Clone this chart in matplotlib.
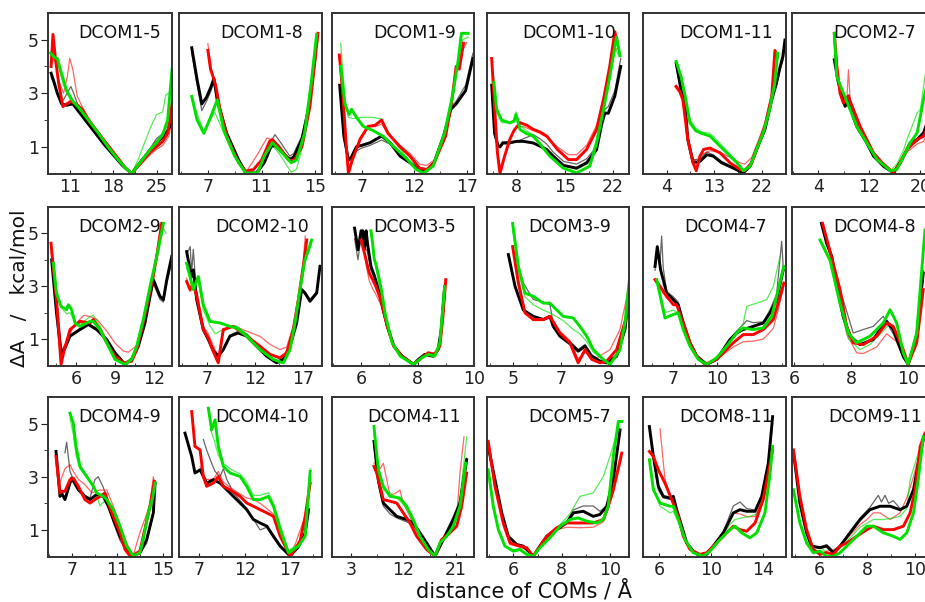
import numpy as np
import matplotlib
matplotlib.use("Agg")
import matplotlib.pyplot as plt
from matplotlib.ticker import AutoMinorLocator

# curve order in every panel: black thick, black thin, red thick, red thin, green thick, green thin

TITLES = ["DCOM1-5", "DCOM1-8", "DCOM1-9", "DCOM1-10", "DCOM1-11", "DCOM2-7",
          "DCOM2-9", "DCOM2-10", "DCOM3-5", "DCOM3-9", "DCOM4-7", "DCOM4-8",
          "DCOM4-9", "DCOM4-10", "DCOM4-11", "DCOM5-7", "DCOM8-11", "DCOM9-11"]

XLIMS = [(7.5, 27.5), (4.85, 15.5), (4.17, 17.7), (3.7, 24.3), (-0.49, 26.6), (-0.14, 22.3),
         (3.85, 13.35), (4.14, 18.93), (4.97, 10.0), (3.89, 9.87), (4.9, 14.8), (5.93, 10.93),
         (4.93, 15.76), (4.76, 20.5), (-0.26, 24.1), (4.91, 10.78), (4.75, 15.75), (4.86, 10.84)]

XTICKS = [[11, 18, 25], [7, 11, 15], [7, 12, 17], [8, 15, 22], [4, 13, 22], [4, 12, 20],
          [6, 9, 12], [7, 12, 17], [6, 8, 10], [5, 7, 9], [7, 10, 13], [6, 8, 10],
          [7, 11, 15], [7, 12, 17], [3, 12, 21], [6, 8, 10], [6, 10, 14], [6, 8, 10]]

# ---------------- DCOM1-5
D1_5_X = [
    [8.0, 8.5, 9.0, 9.7, 10.5, 11.5, 12.5, 13.5, 15, 16.5, 18, 19.5, 21, 22.5, 24, 25, 26, 26.8, 27.5],
    [8.0, 8.5, 9.2, 10, 10.8, 11.2, 11.8, 12.5, 13.5, 15, 16.5, 18, 19.5, 21, 22.5, 24, 25, 25.8, 26.5],
    [8.0, 8.3, 8.7, 9.2, 9.9, 10.5, 11.2, 12, 13, 14, 15.5, 17, 18.5, 20, 21, 22.5, 24, 25, 26, 26.8, 27.5],
    [8.1, 8.5, 9.2, 10, 10.6, 11.0, 11.5, 12.2, 13, 14, 15.5, 17, 18.5, 20, 21, 22.5, 24, 25, 26, 27, 27.5],
    [7.9, 8.5, 9.0, 9.6, 10.5, 11.5, 12.5, 14, 15.5, 17, 18.5, 20, 21, 22.5, 24, 25, 26, 26.8, 27.5],
    [7.9, 8.5, 9.2, 10, 11, 12, 13, 14.5, 16, 17.5, 19, 20.5, 21, 22, 23, 24, 25, 26, 26.5, 27]]
D1_5_Y = [
    [3.75, 3.4, 3.0, 2.6, 2.55, 2.6, 2.3, 2.0, 1.55, 1.1, 0.7, 0.3, 0.0, 0.45, 0.85, 1.15, 1.35, 1.6, 1.9],
    [3.6, 3.3, 2.9, 2.75, 3.1, 3.25, 2.9, 2.45, 2.05, 1.6, 1.15, 0.75, 0.35, 0.0, 0.5, 0.95, 1.3, 1.45, 1.7],
    [4.0, 5.2, 4.3, 3.4, 2.5, 2.6, 2.7, 2.6, 2.4, 2.0, 1.55, 1.1, 0.65, 0.2, 0.0, 0.4, 0.8, 1.0, 1.2, 1.5, 2.6],
    [4.1, 4.4, 3.5, 3.0, 3.6, 4.3, 3.9, 2.9, 2.5, 2.1, 1.6, 1.15, 0.7, 0.25, 0.0, 0.35, 0.7, 0.9, 1.05, 1.4, 2.0],
    [4.5, 4.35, 4.3, 3.8, 3.1, 2.7, 2.45, 2.0, 1.55, 1.05, 0.6, 0.2, 0.0, 0.45, 0.9, 1.15, 1.45, 2.0, 3.9],
    [4.4, 4.2, 4.0, 3.3, 2.8, 2.55, 2.3, 1.85, 1.35, 0.9, 0.45, 0.1, 0.0, 0.5, 1.1, 1.7, 2.2, 2.3, 2.95, 3.0]]

# ---------------- DCOM1-8
D1_8_X = [
    [5.8, 6.2, 6.55, 6.9, 7.2, 7.45, 7.7, 8.4, 9.3, 9.8, 10.6, 11.2, 11.7, 12.0, 12.5, 13.1, 13.4, 14.0, 14.5, 15.0],
    [5.8, 6.2, 6.55, 6.9, 7.2, 7.45, 7.7, 8.4, 9.3, 9.8, 10.6, 11.2, 11.7, 12.0, 12.5, 13.1, 13.4, 14.0, 14.5, 15.0],
    [7.0, 7.2, 7.4, 7.6, 7.9, 8.5, 9.3, 9.8, 10.4, 11.0, 11.6, 11.8, 12.3, 13.0, 13.4, 14.0, 14.6, 15.2],
    [7.0, 7.1, 7.3, 7.6, 7.9, 8.5, 9.3, 9.9, 10.3, 10.8, 11.4, 11.8, 12.3, 13.0, 13.4, 14.0, 14.6, 15.1],
    [5.8, 6.2, 6.7, 7.2, 7.7, 8.2, 9.0, 9.8, 10.7, 11.2, 11.8, 12.3, 13.2, 13.6, 14.2, 14.7, 15.1],
    [5.8, 6.7, 7.5, 8.2, 9.0, 9.8, 10.7, 11.2, 11.8, 12.3, 13.2, 13.6, 14.2, 14.7, 15.1]]
D1_8_Y = [
    [4.7, 3.5, 2.6, 2.85, 3.2, 3.55, 2.75, 1.5, 0.5, 0.05, 0.0, 0.4, 1.0, 1.05, 0.8, 0.52, 0.62, 1.27, 2.4, 4.4],
    [4.5, 3.3, 2.35, 2.7, 3.05, 3.4, 2.6, 1.45, 0.45, 0.05, 0.05, 0.5, 1.2, 1.45, 1.1, 0.65, 0.75, 1.4, 2.6, 4.6],
    [4.6, 3.9, 3.6, 3.25, 2.4, 1.27, 0.4, 0.08, 0.15, 0.5, 1.2, 1.27, 1.0, 0.52, 0.46, 1.0, 2.5, 5.24],
    [4.85, 4.5, 3.8, 3.3, 2.5, 1.35, 0.45, 0.1, 0.4, 0.8, 1.33, 1.25, 0.95, 0.6, 0.55, 1.1, 2.6, 5.0],
    [2.88, 2.0, 1.5, 2.1, 2.75, 1.6, 0.65, 0.02, 0.02, 0.65, 1.15, 0.9, 0.4, 0.5, 1.5, 3.4, 5.2],
    [2.8, 1.55, 2.3, 1.5, 0.6, 0.0, 0.0, 0.6, 1.05, 0.75, 0.05, 0.15, 1.3, 3.0, 5.0]]

# ---------------- DCOM1-9
D1_9_X = [
    [4.9, 5.3, 5.73, 6.0, 6.5, 7.0, 7.8, 8.9, 9.7, 10.65, 11.6, 12.5, 13.2, 13.9, 14.8, 15.5, 16.0, 16.9, 17.6],
    [4.9, 5.3, 5.73, 6.0, 6.5, 7.0, 7.8, 8.9, 9.7, 10.65, 11.6, 12.5, 13.2, 13.9, 14.8, 15.5, 16.0, 16.9, 17.6],
    [4.87, 5.2, 5.5, 5.73, 6.1, 6.84, 7.6, 8.27, 8.9, 9.5, 10.65, 11.6, 12.5, 13.2, 13.9, 15.0, 15.6, 16.0, 16.3, 16.7],
    [4.87, 5.3, 5.73, 6.2, 6.84, 7.6, 8.3, 8.9, 9.5, 10.65, 11.6, 12.5, 13.2, 13.9, 15.0, 15.6, 16.1, 16.6, 17.0],
    [5.0, 5.4, 5.8, 6.04, 6.5, 7.15, 8.1, 9.06, 10.0, 11.3, 12.2, 12.9, 13.8, 14.9, 15.7, 16.2, 16.5, 17.15],
    [5.0, 5.4, 5.73, 6.2, 7.0, 8.0, 8.8, 9.5, 10.3, 11.3, 12.2, 12.9, 13.8, 14.9, 15.7, 16.2, 16.6, 17.15]]
D1_9_Y = [
    [3.3, 1.4, 0.52, 0.6, 1.0, 1.05, 1.15, 1.4, 1.15, 0.65, 0.4, 0.1, 0.1, 0.4, 1.4, 2.4, 2.6, 3.1, 4.3],
    [3.2, 1.3, 0.45, 0.5, 0.85, 0.95, 1.05, 1.25, 1.1, 0.7, 0.45, 0.15, 0.12, 0.45, 1.45, 2.5, 2.7, 3.3, 4.5],
    [4.43, 3.0, 1.2, 0.0, 0.5, 1.27, 1.76, 1.8, 2.0, 1.5, 1.0, 0.65, 0.2, 0.15, 0.4, 1.4, 2.75, 4.0, 3.9, 4.87],
    [4.3, 2.2, 0.1, 0.6, 1.35, 1.75, 1.75, 1.85, 1.5, 1.05, 0.75, 0.35, 0.3, 0.5, 1.45, 2.7, 3.9, 4.6, 4.9],
    [4.0, 2.6, 2.2, 2.4, 2.1, 1.76, 1.6, 1.39, 1.02, 0.55, 0.15, 0.02, 0.27, 1.52, 3.0, 4.25, 5.24, 5.24],
    [4.87, 2.8, 2.1, 2.05, 2.1, 2.1, 2.05, 1.6, 1.1, 0.6, 0.2, 0.05, 0.3, 1.5, 3.0, 4.2, 5.0, 5.1]]

# ---------------- DCOM1-10
D1_10_X = [
    [4.38, 4.8, 5.3, 5.6, 6.0, 7.0, 8.0, 9.0, 10.4, 11.4, 12.35, 13.3, 14.8, 16.7, 18.15, 19.6, 20.3, 20.8, 21.3, 22.25, 23.1],
    [4.38, 4.8, 5.3, 5.6, 6.0, 7.0, 8.0, 9.0, 10.4, 11.4, 12.35, 13.3, 14.8, 16.7, 18.15, 19.6, 20.3, 20.8, 21.3, 22.25, 23.1],
    [4.38, 4.8, 5.2, 5.58, 6.2, 7.0, 7.6, 8.5, 9.5, 10.4, 11.4, 12.4, 13.9, 15.5, 16.7, 18.15, 19.6, 20.6, 21.5, 22.25, 22.6],
    [4.38, 4.8, 5.3, 5.7, 6.3, 7.0, 8.0, 9.0, 10.4, 11.4, 12.4, 13.9, 15.5, 16.7, 18.15, 19.6, 20.6, 21.5, 22.25, 22.7],
    [4.7, 5.1, 5.83, 7.0, 7.6, 7.9, 8.5, 9.4, 10.4, 11.4, 12.8, 14.76, 16.7, 18.6, 19.6, 20.6, 21.5, 22.5, 23.0],
    [4.7, 5.1, 5.83, 7.0, 7.6, 7.9, 8.5, 9.4, 10.4, 11.4, 12.8, 14.76, 16.7, 18.6, 19.6, 20.6, 21.5, 22.3, 22.8]]
D1_10_Y = [
    [3.3, 1.5, 1.05, 1.0, 1.15, 1.15, 1.2, 1.2, 1.14, 1.02, 0.9, 0.65, 0.3, 0.2, 0.4, 0.89, 1.8, 2.26, 2.25, 2.9, 4.0],
    [3.2, 1.4, 1.0, 0.95, 1.1, 1.1, 1.2, 1.3, 1.45, 1.3, 1.1, 0.8, 0.45, 0.35, 0.55, 1.0, 1.9, 2.4, 2.5, 3.1, 4.3],
    [4.3, 2.5, 0.8, 0.0, 0.6, 1.27, 1.6, 1.9, 1.8, 1.65, 1.55, 1.39, 0.9, 0.52, 0.52, 0.9, 1.64, 2.76, 4.0, 5.3, 4.9],
    [4.2, 2.4, 0.7, 0.15, 0.7, 1.3, 1.75, 1.75, 1.6, 1.5, 1.35, 1.0, 0.7, 0.7, 1.05, 1.8, 2.9, 3.9, 4.6, 4.7],
    [3.4, 2.4, 2.0, 1.89, 1.95, 2.2, 1.64, 1.5, 1.39, 1.1, 0.65, 0.2, 0.02, 0.27, 1.14, 2.39, 3.6, 5.1, 4.4],
    [3.6, 2.3, 1.9, 1.9, 2.0, 2.3, 1.8, 1.6, 1.45, 1.15, 0.7, 0.3, 0.15, 0.4, 1.3, 2.6, 3.8, 4.7, 4.4]]

# ---------------- DCOM1-11
D1_11_X = [
    [5.8, 6.75, 7.4, 8.0, 9.0, 10.3, 11.6, 12.8, 14.4, 16.6, 18.5, 19.8, 21.0, 22.6, 23.9, 24.8, 25.5, 26.0, 26.4],
    [5.8, 6.75, 7.4, 8.0, 9.0, 10.3, 11.6, 12.8, 14.4, 16.6, 18.5, 19.8, 21.0, 22.6, 23.9, 24.8, 25.5, 26.0, 26.4],
    [5.76, 6.5, 7.07, 8.0, 9.0, 9.6, 10.3, 11.0, 12.2, 14.1, 16.0, 17.9, 18.8, 20.1, 21.3, 22.6, 23.9, 24.5, 25.0],
    [5.76, 6.5, 7.07, 8.0, 9.0, 9.8, 10.6, 12.2, 14.1, 16.0, 17.9, 18.8, 20.1, 21.3, 22.6, 23.9, 24.5, 25.0],
    [5.8, 6.75, 7.5, 8.4, 9.5, 10.6, 12.2, 13.5, 15.4, 17.3, 18.5, 19.8, 21.0, 22.3, 23.5, 24.5, 25.0],
    [5.8, 6.75, 7.5, 8.4, 9.5, 10.6, 12.2, 13.5, 15.4, 17.3, 18.5, 19.8, 21.0, 22.3, 23.5, 24.5, 25.1]]
D1_11_Y = [
    [4.12, 3.1, 2.76, 1.27, 0.4, 0.45, 0.7, 0.65, 0.4, 0.2, 0.02, 0.27, 0.89, 1.64, 2.76, 3.38, 4.0, 4.37, 4.99],
    [4.0, 3.0, 2.6, 1.2, 0.5, 0.55, 0.8, 0.7, 0.45, 0.25, 0.05, 0.3, 0.9, 1.6, 2.7, 3.3, 3.9, 4.2, 4.7],
    [3.25, 3.05, 2.76, 1.27, 0.4, 0.1, 0.65, 0.9, 0.95, 0.77, 0.4, 0.15, 0.1, 0.4, 1.02, 1.76, 2.88, 4.6, 4.37],
    [3.3, 3.2, 2.6, 1.3, 0.55, 0.4, 0.7, 0.85, 0.8, 0.6, 0.4, 0.35, 0.6, 1.2, 1.9, 3.0, 4.3, 4.4],
    [4.19, 3.6, 2.88, 1.9, 1.6, 1.5, 1.4, 1.14, 0.77, 0.4, 0.1, 0.27, 0.89, 1.52, 2.39, 3.4, 4.5],
    [4.1, 3.6, 2.95, 2.0, 1.7, 1.55, 1.5, 1.25, 0.85, 0.45, 0.15, 0.3, 0.9, 1.5, 2.4, 3.5, 4.4]]

# ---------------- DCOM2-7
D2_7_X = [
    [6.5, 7.14, 8.19, 8.72, 9.5, 10.03, 11.6, 12.65, 14.22, 15.8, 17.1, 18.4, 19.5, 20.5, 21.5],
    [6.5, 7.14, 8.19, 8.72, 9.5, 10.03, 11.6, 12.65, 14.22, 15.8, 17.1, 18.4, 19.5, 20.5, 21.5],
    [6.5, 6.9, 7.4, 7.93, 8.7, 9.5, 10.55, 11.6, 12.65, 14.0, 15.8, 16.8, 17.9, 19.5, 20.5, 21.5],
    [6.5, 6.9, 7.4, 7.93, 8.4, 8.72, 9.0, 9.5, 10.55, 11.6, 12.65, 14.0, 15.8, 16.8, 17.9, 19.5, 20.5, 21.5],
    [6.5, 6.88, 7.93, 9.0, 10.03, 11.6, 13.2, 15.3, 16.3, 17.4, 18.4, 19.5, 20.5, 21.5],
    [6.5, 6.88, 7.93, 9.0, 10.03, 11.6, 13.2, 15.3, 16.3, 17.4, 17.9, 19.5, 20.0, 20.8, 21.5]]
D2_7_Y = [
    [4.25, 3.4, 2.51, 2.88, 2.1, 1.76, 1.14, 0.65, 0.27, 0.02, 0.52, 1.14, 1.27, 1.52, 2.2],
    [4.4, 3.5, 2.7, 2.95, 2.2, 1.8, 1.2, 0.7, 0.3, 0.05, 0.5, 1.05, 1.2, 1.45, 2.1],
    [5.24, 4.0, 3.0, 2.63, 2.88, 2.39, 1.76, 1.27, 0.77, 0.4, 0.02, 0.4, 0.89, 1.27, 1.39, 1.9],
    [4.9, 3.8, 3.1, 2.9, 2.5, 3.88, 2.7, 2.3, 1.7, 1.2, 0.75, 0.4, 0.05, 0.3, 0.8, 1.1, 1.2, 1.6],
    [5.24, 3.63, 3.0, 2.39, 1.76, 1.14, 0.52, 0.1, 0.15, 0.65, 1.14, 1.52, 2.76, 3.8],
    [5.1, 3.5, 2.9, 2.3, 1.7, 1.1, 0.5, 0.1, 0.35, 0.9, 1.27, 2.26, 2.39, 3.75, 4.3]]

# ---------------- DCOM2-9
D2_9_X = [
    [4.13, 4.5, 4.85, 5.1, 5.54, 6.3, 6.94, 7.58, 8.35, 8.98, 9.75, 10.26, 10.77, 11.28, 11.67, 11.92, 12.43, 12.69, 12.95, 13.33],
    [4.13, 4.5, 4.85, 5.1, 5.54, 6.3, 6.94, 7.58, 8.35, 8.98, 9.75, 10.26, 10.77, 11.28, 11.67, 11.92, 12.43, 12.69, 12.95, 13.33],
    [4.08, 4.5, 4.85, 5.1, 5.54, 6.3, 7.07, 7.32, 7.83, 8.35, 8.98, 9.62, 10.26, 10.65, 11.03, 11.54, 11.92, 12.23, 12.56],
    [4.08, 4.5, 4.9, 5.3, 5.8, 6.3, 6.6, 7.07, 7.6, 8.35, 8.98, 9.62, 10.0, 10.65, 11.03, 11.54, 11.92, 12.23, 12.6],
    [4.26, 4.5, 4.85, 5.28, 5.41, 5.66, 5.92, 6.3, 7.07, 7.32, 7.83, 8.35, 8.98, 9.75, 10.26, 10.65, 11.15, 11.67, 12.18, 12.69],
    [4.26, 4.5, 4.85, 5.28, 5.54, 5.92, 6.3, 7.07, 7.32, 7.83, 8.35, 8.98, 9.75, 10.26, 10.65, 11.15, 11.67, 12.18, 12.69, 12.9]]
D2_9_Y = [
    [4.0, 2.0, 0.48, 0.6, 1.11, 1.36, 1.55, 1.36, 0.98, 0.48, 0.04, 0.23, 0.73, 1.61, 2.62, 3.25, 2.62, 2.49, 3.25, 4.13],
    [3.9, 2.0, 0.55, 0.7, 1.15, 1.4, 1.6, 1.4, 1.0, 0.5, 0.08, 0.25, 0.8, 1.65, 2.7, 3.1, 2.5, 2.4, 3.1, 3.9],
    [4.63, 2.5, 0.04, 0.6, 1.36, 1.67, 1.61, 1.74, 1.36, 0.86, 0.35, 0.1, 0.16, 0.6, 1.36, 2.49, 3.4, 4.3, 5.38],
    [4.3, 2.6, 0.6, 0.9, 1.5, 1.75, 1.9, 1.85, 1.75, 1.3, 0.85, 0.55, 0.5, 0.75, 1.4, 2.4, 3.3, 4.1, 5.1],
    [3.87, 2.74, 2.24, 2.11, 2.3, 2.11, 1.61, 1.48, 1.67, 1.67, 1.36, 0.86, 0.23, 0.04, 0.23, 0.73, 1.74, 2.99, 4.13, 5.38],
    [3.8, 2.8, 2.2, 1.95, 2.0, 1.65, 1.55, 1.85, 1.9, 1.5, 0.95, 0.3, 0.08, 0.3, 0.8, 1.8, 3.0, 4.1, 5.2, 5.0]]

# ---------------- DCOM2-10
D2_10_X = [
    [4.93, 5.3, 5.45, 5.62, 5.97, 6.65, 7.17, 7.7, 8.2, 8.72, 9.41, 10.27, 11.14, 12.17, 13.21, 14.24, 14.93, 15.62, 16.31, 16.83, 17.17, 17.69, 18.38, 18.72],
    [4.93, 5.3, 5.45, 5.62, 5.97, 6.65, 7.17, 7.7, 8.2, 8.72, 9.41, 10.27, 11.14, 12.17, 13.21, 14.24, 14.93, 15.62, 16.31, 16.83, 17.17, 17.69, 18.38, 18.72],
    [4.93, 5.28, 5.62, 5.97, 6.65, 7.17, 7.6, 8.2, 8.72, 9.76, 11.14, 12.52, 13.55, 14.58, 15.28, 15.96, 16.48, 17.0, 17.35],
    [4.93, 5.28, 5.62, 6.0, 6.65, 7.17, 7.7, 8.2, 8.72, 9.76, 11.14, 12.52, 13.55, 14.58, 15.28, 15.96, 16.48, 17.0, 17.2],
    [4.93, 5.62, 6.14, 6.65, 7.35, 8.38, 9.41, 10.1, 11.14, 12.52, 13.89, 14.93, 15.62, 16.14, 16.65, 17.17, 17.86],
    [4.93, 5.62, 6.14, 6.65, 7.35, 7.9, 8.38, 9.41, 10.1, 11.14, 12.52, 13.89, 14.93, 15.62, 16.14, 16.65, 17.17, 17.86]]
D2_10_Y = [
    [4.31, 3.6, 3.37, 3.62, 2.49, 1.36, 0.98, 0.55, 0.35, 0.6, 1.11, 1.23, 1.11, 0.73, 0.35, 0.1, 0.23, 0.73, 1.61, 2.87, 2.74, 2.43, 2.74, 3.75],
    [4.2, 4.5, 3.5, 4.4, 2.6, 1.45, 1.05, 0.6, 0.4, 0.65, 1.15, 1.3, 1.2, 0.8, 0.45, 0.15, 0.3, 0.8, 1.7, 2.9, 2.8, 2.5, 2.8, 3.8],
    [3.18, 2.87, 3.12, 2.62, 1.36, 1.04, 0.6, 0.1, 1.36, 1.48, 1.11, 0.73, 0.42, 0.29, 0.48, 1.36, 2.49, 3.75, 4.75],
    [3.3, 2.8, 3.0, 2.8, 1.5, 1.2, 0.75, 0.35, 1.3, 1.5, 1.3, 1.1, 0.8, 0.6, 0.7, 1.5, 2.6, 4.0, 4.9],
    [3.87, 2.87, 3.37, 2.3, 1.67, 1.61, 1.48, 1.42, 1.11, 0.6, 0.23, 0.1, 0.6, 1.61, 2.87, 4.0, 4.75],
    [3.7, 3.0, 3.2, 2.1, 1.5, 1.2, 1.3, 1.45, 1.5, 1.2, 0.7, 0.35, 0.2, 0.7, 1.7, 2.9, 3.9, 4.6]]

# ---------------- DCOM3-5
D3_5_X = [
    [5.77, 5.89, 6.0, 6.06, 6.12, 6.18, 6.23, 6.35, 6.47, 6.58, 6.7, 6.93, 7.16, 7.45, 7.86, 8.03, 8.26, 8.55, 8.73, 8.84, 8.96],
    [5.77, 5.89, 6.0, 6.12, 6.23, 6.35, 6.47, 6.58, 6.7, 6.93, 7.16, 7.45, 7.86, 8.03, 8.26, 8.55, 8.73, 8.84],
    [6.0, 6.12, 6.29, 6.41, 6.52, 6.7, 6.93, 7.16, 7.45, 7.86, 8.15, 8.38, 8.61, 8.79, 8.9, 9.0],
    [6.06, 6.18, 6.29, 6.41, 6.52, 6.7, 6.93, 7.16, 7.45, 7.86, 8.15, 8.38, 8.61, 8.79, 8.9, 9.0],
    [6.35, 6.41, 6.47, 6.52, 6.7, 6.87, 7.1, 7.39, 7.86, 8.15, 8.38, 8.61, 8.79, 8.9, 8.96],
    [6.41, 6.52, 6.7, 6.87, 7.1, 7.39, 7.86, 8.15, 8.38, 8.61, 8.79, 8.9, 8.96]]
D3_5_Y = [
    [5.2, 4.38, 5.1, 5.1, 4.4, 5.1, 4.6, 3.75, 3.4, 3.0, 2.49, 1.48, 0.73, 0.35, 0.04, 0.23, 0.42, 0.35, 0.6, 1.36, 2.99],
    [4.8, 4.0, 4.9, 4.5, 4.3, 3.6, 3.3, 2.9, 2.4, 1.45, 0.75, 0.4, 0.06, 0.2, 0.45, 0.4, 0.65, 1.4],
    [4.75, 4.25, 3.5, 3.25, 3.0, 2.49, 1.48, 0.73, 0.35, 0.04, 0.29, 0.48, 0.42, 0.73, 1.86, 3.25],
    [4.8, 3.8, 3.2, 2.9, 2.7, 2.3, 1.4, 0.7, 0.38, 0.06, 0.3, 0.5, 0.45, 0.75, 1.9, 3.1],
    [5.1, 4.6, 4.0, 3.87, 2.99, 1.86, 0.86, 0.35, 0.04, 0.29, 0.42, 0.35, 0.86, 2.24, 2.99],
    [4.4, 3.7, 2.8, 1.9, 0.9, 0.4, 0.06, 0.3, 0.45, 0.4, 0.9, 2.2, 2.9]]

# ---------------- DCOM3-9
D3_9_X = [
    [4.79, 5.07, 5.42, 5.84, 6.26, 6.54, 6.68, 6.96, 7.52, 7.73, 8.02, 8.3, 8.65, 8.93, 9.35, 9.7, 9.91],
    [5.07, 5.42, 5.84, 6.26, 6.54, 6.68, 6.96, 7.52, 7.73, 8.02, 8.3, 8.65, 8.93, 9.35, 9.7, 9.91],
    [4.97, 5.21, 5.49, 5.84, 6.26, 6.54, 6.96, 7.38, 7.73, 8.02, 8.3, 8.65, 8.93, 9.35, 9.77, 9.91],
    [5.1, 5.49, 5.84, 6.26, 6.54, 6.96, 7.38, 7.73, 8.02, 8.51, 9.07, 9.49, 9.84],
    [4.97, 5.21, 5.49, 5.84, 6.26, 6.54, 6.82, 7.1, 7.52, 7.8, 8.09, 8.37, 8.79, 9.07, 9.49, 9.7, 9.84],
    [4.97, 5.21, 5.49, 5.84, 6.26, 6.54, 6.82, 7.1, 7.52, 7.8, 8.09, 8.37, 8.79, 9.07, 9.49, 9.7, 9.84]]
D3_9_Y = [
    [4.2, 3.0, 2.1, 1.86, 1.74, 1.86, 1.48, 1.11, 0.73, 0.54, 0.73, 0.35, 0.16, 0.1, 0.35, 1.36, 3.12],
    [4.3, 3.12, 2.5, 2.4, 2.3, 1.6, 1.2, 0.8, 0.6, 0.8, 0.4, 0.2, 0.12, 0.4, 1.4, 3.0],
    [4.5, 3.12, 1.99, 1.74, 1.74, 1.86, 1.23, 0.86, 0.1, 0.6, 0.23, 0.1, 0.16, 0.6, 1.86, 3.5],
    [3.9, 2.0, 1.7, 1.7, 1.8, 1.3, 0.95, 0.25, 0.5, 0.29, 0.6, 1.36, 2.87],
    [5.38, 3.75, 2.74, 2.62, 2.36, 2.36, 2.11, 1.86, 1.8, 1.48, 1.11, 0.6, 0.23, 0.04, 0.6, 1.61, 2.87],
    [5.2, 3.6, 2.6, 2.3, 2.1, 1.99, 1.85, 1.7, 1.36, 1.2, 0.9, 0.5, 0.2, 0.08, 0.55, 1.5, 2.8]]

# ---------------- DCOM4-7
D4_7_X = [
    [5.73, 5.89, 6.12, 6.54, 7.0, 7.34, 7.69, 8.15, 8.62, 9.31, 10.0, 10.46, 10.92, 11.38, 11.84, 12.53, 13.23, 13.69, 14.15, 14.61],
    [5.73, 5.89, 6.08, 6.19, 6.3, 6.54, 7.0, 7.34, 7.69, 8.15, 8.62, 9.31, 10.0, 10.46, 10.92, 11.38, 11.84, 12.08, 12.53, 13.23, 13.69, 14.15, 14.5, 14.61],
    [5.73, 6.08, 6.54, 7.0, 7.23, 7.69, 8.15, 8.62, 9.19, 10.0, 10.46, 11.15, 11.84, 12.53, 13.23, 13.92, 14.26, 14.65],
    [5.73, 6.08, 6.54, 7.0, 7.23, 7.69, 8.15, 8.62, 9.19, 10.0, 10.46, 11.15, 11.84, 12.53, 13.23, 13.92, 14.26, 14.65],
    [5.85, 6.42, 7.0, 7.34, 7.69, 8.15, 8.73, 9.31, 10.0, 10.69, 11.38, 11.84, 12.53, 13.23, 13.81, 14.15, 14.65],
    [5.85, 6.42, 7.0, 7.34, 7.69, 8.15, 8.73, 9.31, 10.0, 10.69, 11.38, 11.84, 12.08, 12.77, 13.46, 13.92, 14.38]]
D4_7_Y = [
    [3.75, 4.5, 3.62, 2.74, 2.49, 2.3, 1.61, 0.86, 0.35, 0.04, 0.23, 0.6, 0.98, 1.23, 1.36, 1.48, 1.61, 1.99, 2.49, 3.62],
    [3.6, 4.3, 3.9, 4.9, 3.7, 2.8, 2.6, 2.4, 1.65, 0.9, 0.4, 0.06, 0.25, 0.65, 1.0, 1.3, 1.55, 1.7, 1.62, 1.65, 2.1, 2.7, 4.7, 3.7],
    [3.25, 3.0, 2.62, 2.3, 2.3, 1.61, 0.86, 0.35, 0.04, 0.23, 0.48, 0.86, 1.17, 1.17, 1.36, 1.74, 2.36, 3.12],
    [3.2, 2.9, 2.55, 2.35, 2.3, 1.6, 0.85, 0.33, 0.04, 0.2, 0.42, 0.7, 0.9, 0.92, 1.0, 1.4, 2.1, 3.0],
    [3.25, 1.8, 1.93, 1.99, 1.36, 0.73, 0.23, 0.04, 0.29, 0.73, 1.23, 1.42, 1.36, 1.42, 1.86, 2.62, 3.75],
    [3.1, 2.0, 2.1, 2.0, 1.4, 0.75, 0.25, 0.06, 0.3, 0.75, 1.25, 1.6, 2.24, 2.36, 2.49, 2.99, 4.13]]

# ---------------- DCOM4-8
D4_8_X = [
    [6.96, 7.14, 7.32, 7.49, 7.72, 7.96, 8.31, 8.77, 9.01, 9.24, 9.47, 9.82, 9.99, 10.29, 10.52],
    [7.02, 7.26, 7.37, 7.72, 8.07, 8.42, 8.77, 9.12, 9.36, 9.47, 9.82, 9.99, 10.29, 10.52],
    [7.0, 7.26, 7.61, 7.84, 8.07, 8.42, 8.89, 9.24, 9.47, 9.82, 9.99, 10.29, 10.52],
    [7.0, 7.26, 7.61, 7.84, 8.19, 8.42, 8.89, 9.24, 9.59, 9.82, 9.99, 10.29, 10.52],
    [6.91, 7.26, 7.61, 7.9, 8.19, 8.66, 9.12, 9.36, 9.59, 9.82, 9.99, 10.29, 10.58],
    [6.91, 7.26, 7.61, 7.9, 8.31, 8.66, 9.12, 9.36, 9.59, 9.82, 9.99, 10.29, 10.58]]
D4_8_Y = [
    [5.38, 4.63, 4.13, 3.12, 1.86, 1.11, 0.79, 0.98, 1.36, 1.67, 1.36, 0.35, 0.04, 1.11, 3.5],
    [5.1, 4.4, 3.62, 2.49, 1.23, 1.36, 1.48, 1.86, 1.4, 1.2, 0.3, 0.04, 1.2, 3.6],
    [5.38, 4.31, 2.87, 1.48, 0.86, 0.79, 1.11, 1.61, 1.48, 0.6, 0.04, 0.86, 2.87],
    [5.2, 4.2, 2.6, 1.2, 0.48, 0.45, 0.7, 1.2, 0.9, 0.3, 0.04, 0.8, 2.7],
    [4.75, 3.99, 2.36, 1.23, 0.86, 1.11, 1.61, 2.11, 1.61, 0.48, 0.04, 1.23, 5.13],
    [4.7, 3.9, 2.2, 1.0, 0.6, 0.8, 1.3, 1.6, 1.0, 0.3, 0.04, 1.3, 5.0]]

# ---------------- DCOM4-9
D4_9_X = [
    [5.63, 5.98, 6.12, 6.41, 6.85, 7.0, 7.58, 8.16, 8.6, 9.18, 9.76, 10.2, 10.63, 11.22, 11.66, 12.24, 12.96, 13.55, 14.13, 14.28],
    [6.41, 6.56, 6.85, 7.14, 7.58, 8.16, 8.6, 9.03, 9.32, 9.76, 10.2, 10.63, 11.22, 11.66, 12.24, 12.96, 13.55, 14.13, 14.28],
    [5.63, 5.98, 6.12, 6.41, 6.85, 7.14, 7.58, 8.16, 8.6, 9.03, 9.47, 9.91, 10.2, 10.63, 11.22, 11.66, 12.09, 12.38, 12.96, 13.25, 13.84, 14.21],
    [5.98, 6.41, 6.85, 7.14, 7.58, 8.16, 8.75, 9.47, 10.06, 10.63, 11.22, 11.8, 12.38, 12.96, 13.55, 13.84, 14.13, 14.21],
    [6.85, 7.14, 7.38, 7.72, 8.31, 8.89, 9.18, 9.76, 10.06, 10.63, 11.22, 11.8, 12.38, 12.96, 13.25, 13.69, 14.07, 14.28],
    [6.85, 7.14, 7.38, 7.72, 8.31, 8.89, 9.18, 9.47, 9.76, 10.2, 10.63, 11.22, 11.8, 12.38, 12.96, 13.25, 13.69, 14.07, 14.28]]
D4_9_Y = [
    [3.95, 2.26, 2.39, 2.14, 2.76, 2.95, 2.51, 2.26, 2.14, 2.33, 2.26, 1.89, 1.39, 0.76, 0.39, 0.02, 0.14, 0.64, 1.64, 2.76],
    [3.9, 4.3, 3.2, 2.9, 2.6, 2.3, 2.2, 2.9, 3.0, 2.6, 2.0, 1.3, 0.6, 0.3, 0.05, 0.1, 0.5, 1.6, 2.8],
    [3.76, 2.39, 2.45, 2.45, 2.89, 2.95, 2.64, 2.14, 2.01, 2.14, 2.26, 2.39, 2.01, 1.51, 0.89, 0.26, 0.02, 0.05, 0.2, 0.76, 1.89, 2.83],
    [2.8, 3.3, 3.45, 3.2, 2.9, 2.7, 2.4, 2.5, 2.5, 1.9, 1.2, 0.5, 0.05, 0.9, 1.6, 2.0, 3.0, 2.8],
    [5.39, 5.01, 4.14, 3.39, 3.01, 2.64, 2.39, 2.26, 2.14, 1.76, 1.14, 0.39, 0.02, 0.14, 0.64, 1.64, 2.2, 2.76],
    [5.2, 4.6, 3.8, 3.3, 3.0, 2.7, 2.3, 1.9, 2.05, 2.0, 1.6, 1.0, 0.3, 0.05, 0.2, 0.8, 1.7, 2.3, 2.8]]

# ---------------- DCOM4-10
D4_10_X = [
    [5.42, 6.16, 6.52, 7.08, 7.81, 8.54, 9.28, 10.02, 10.75, 11.49, 12.22, 12.95, 13.69, 14.43, 15.16, 15.9, 17.0, 17.91, 18.65, 19.02],
    [7.44, 7.81, 8.36, 8.73, 9.28, 9.64, 10.02, 10.75, 11.49, 12.22, 12.95, 13.69, 14.43, 15.16, 15.9, 17.0, 17.91, 18.65, 19.02],
    [6.16, 6.52, 7.08, 7.44, 7.81, 8.54, 9.09, 9.64, 10.38, 11.49, 12.22, 12.95, 13.69, 14.43, 15.16, 15.9, 17.0, 17.6, 18.1, 18.65, 19.2],
    [7.08, 7.44, 7.81, 8.54, 9.09, 9.64, 10.38, 11.49, 12.22, 12.95, 13.69, 14.43, 15.16, 15.9, 17.0, 17.6, 18.1, 18.65, 19.2],
    [7.99, 8.36, 8.73, 9.09, 9.64, 10.38, 11.49, 12.22, 12.95, 13.69, 14.6, 15.16, 15.9, 16.81, 17.91, 18.65, 19.2],
    [8.2, 8.6, 9.09, 9.64, 10.38, 11.49, 12.22, 12.95, 13.69, 14.6, 15.16, 15.9, 16.81, 17.91, 18.65, 19.2]]
D4_10_Y = [
    [4.64, 3.76, 3.14, 3.26, 2.76, 2.89, 2.76, 2.51, 2.26, 2.01, 1.76, 1.39, 1.26, 1.14, 0.76, 0.39, 0.01, 0.39, 0.89, 1.76],
    [4.4, 4.0, 3.5, 3.2, 3.0, 3.3, 2.9, 2.4, 2.1, 1.8, 1.4, 1.0, 1.1, 0.7, 0.35, 0.03, 0.3, 0.8, 1.8],
    [5.45, 4.14, 4.01, 3.0, 2.64, 2.76, 3.01, 2.64, 2.51, 2.26, 2.01, 1.89, 1.76, 1.64, 1.51, 0.76, 0.01, 0.3, 0.6, 1.51, 2.76],
    [3.39, 3.0, 2.9, 2.9, 3.2, 2.8, 2.6, 2.35, 2.2, 2.15, 2.0, 1.8, 1.6, 0.9, 0.05, 0.5, 1.0, 1.5, 2.9],
    [5.58, 4.76, 5.14, 4.14, 3.39, 3.14, 3.01, 2.64, 2.14, 2.14, 2.26, 1.89, 1.01, 0.14, 0.39, 0.76, 3.2],
    [4.8, 4.4, 3.8, 3.5, 3.3, 3.1, 2.8, 2.3, 2.3, 2.4, 2.0, 1.2, 0.2, 0.5, 0.9, 3.3]]

# ---------------- DCOM4-11
D4_11_X = [
    [6.94, 7.68, 8.54, 9.69, 10.84, 12.55, 13.68, 14.83, 15.98, 17.41, 18.56, 19.69, 20.55, 21.7, 22.84],
    [6.94, 7.68, 8.54, 9.69, 10.84, 12.55, 13.68, 14.83, 15.98, 17.41, 18.56, 19.69, 20.55, 21.7, 22.84],
    [6.94, 7.41, 8.54, 9.69, 10.84, 11.97, 13.12, 14.27, 15.98, 17.41, 18.56, 19.98, 21.13, 21.99, 22.84],
    [6.94, 7.41, 8.0, 8.54, 9.69, 10.84, 11.4, 11.97, 13.12, 14.27, 15.98, 17.41, 18.56, 19.98, 21.13, 21.7, 22.38],
    [6.94, 7.68, 8.54, 9.69, 11.4, 12.55, 13.68, 14.83, 16.26, 17.41, 18.26, 19.41, 20.55, 21.7, 22.67],
    [6.94, 7.68, 8.54, 9.69, 11.4, 12.55, 13.68, 14.83, 16.26, 17.41, 18.26, 19.41, 20.55, 21.7, 22.84]]
D4_11_Y = [
    [4.33, 2.89, 2.01, 1.76, 1.51, 1.39, 1.26, 0.89, 0.51, 0.01, 0.51, 1.01, 1.39, 2.01, 3.64],
    [4.2, 2.7, 1.9, 1.6, 1.45, 1.3, 1.2, 0.85, 0.45, 0.05, 0.6, 1.1, 1.5, 2.1, 3.7],
    [3.39, 3.14, 2.14, 2.08, 2.01, 1.64, 1.26, 0.76, 0.26, 0.01, 0.64, 0.89, 1.14, 1.89, 3.14],
    [3.5, 3.6, 3.3, 3.51, 2.3, 2.4, 2.5, 2.0, 1.5, 0.9, 0.3, 0.05, 0.6, 1.1, 1.5, 3.14, 4.5],
    [4.89, 3.26, 2.64, 2.26, 2.2, 1.89, 1.39, 0.76, 0.26, 0.01, 0.51, 0.76, 1.14, 1.89, 3.51],
    [4.6, 3.4, 2.5, 2.4, 2.1, 1.8, 1.3, 0.7, 0.25, 0.03, 0.5, 0.8, 1.2, 2.2, 4.5]]

# ---------------- DCOM5-7
D5_7_X = [
    [4.96, 5.24, 5.52, 5.79, 6.14, 6.41, 6.69, 6.82, 7.1, 7.38, 7.79, 8.2, 8.48, 8.89, 9.3, 9.58, 9.86, 10.13, 10.41],
    [4.96, 5.24, 5.52, 5.79, 6.14, 6.41, 6.69, 6.82, 7.1, 7.38, 7.79, 8.2, 8.48, 8.89, 9.3, 9.58, 9.86, 10.13, 10.41],
    [4.96, 5.24, 5.58, 5.86, 6.27, 6.55, 6.82, 7.1, 7.38, 7.79, 8.2, 8.75, 9.3, 9.72, 9.92, 10.13, 10.48],
    [4.96, 5.24, 5.58, 5.86, 6.27, 6.55, 6.82, 7.1, 7.38, 7.79, 8.2, 8.75, 9.3, 9.72, 9.92, 10.13, 10.48],
    [4.96, 5.17, 5.38, 5.65, 6.0, 6.27, 6.55, 6.82, 7.1, 7.51, 7.93, 8.34, 8.68, 9.03, 9.44, 9.72, 9.92, 10.13, 10.34, 10.48],
    [4.96, 5.17, 5.38, 5.65, 6.0, 6.27, 6.55, 6.82, 7.1, 7.51, 7.93, 8.34, 8.75, 9.3, 9.72, 9.99, 10.2, 10.41]]
D5_7_Y = [
    [4.14, 2.89, 1.64, 0.76, 0.45, 0.39, 0.14, 0.01, 0.39, 0.76, 1.01, 1.26, 1.64, 1.7, 1.51, 1.58, 1.89, 2.89, 4.76],
    [4.0, 2.8, 1.6, 0.75, 0.45, 0.4, 0.15, 0.03, 0.4, 0.8, 1.05, 1.3, 1.75, 1.9, 1.9, 1.7, 1.9, 2.9, 4.7],
    [4.33, 2.64, 1.26, 0.51, 0.39, 0.33, 0.01, 0.39, 0.76, 1.08, 1.26, 1.26, 1.26, 1.39, 1.89, 2.51, 3.89],
    [4.3, 2.6, 1.2, 0.45, 0.35, 0.25, 0.02, 0.35, 0.7, 1.0, 1.1, 1.08, 1.1, 1.3, 1.8, 2.4, 3.7],
    [3.26, 1.89, 1.01, 0.39, 0.2, 0.26, 0.08, 0.01, 0.33, 0.7, 1.14, 1.39, 1.45, 1.33, 1.26, 1.39, 1.89, 3.76, 5.08, 5.08],
    [3.2, 1.85, 1.0, 0.4, 0.25, 0.3, 0.1, 0.03, 0.35, 0.75, 1.2, 1.6, 2.26, 2.39, 3.01, 3.76, 4.39, 4.9]]

# ---------------- DCOM8-11
D8_11_X = [
    [5.24, 5.55, 5.93, 6.31, 6.83, 7.08, 7.34, 7.73, 8.11, 8.62, 9.13, 9.65, 10.16, 10.93, 11.31, 11.7, 12.21, 12.73, 13.37, 13.88, 14.39, 14.72],
    [5.24, 5.55, 5.93, 6.31, 6.83, 7.08, 7.34, 7.73, 8.11, 8.62, 9.13, 9.65, 10.16, 10.93, 11.31, 11.7, 12.21, 12.73, 13.37, 13.88, 14.39, 14.72],
    [5.24, 5.55, 5.93, 6.44, 6.96, 7.47, 7.85, 8.37, 9.13, 9.65, 10.42, 11.19, 11.7, 12.21, 12.73, 13.37, 14.0, 14.39, 14.72],
    [6.06, 6.44, 6.96, 7.47, 7.85, 8.37, 9.13, 9.65, 10.42, 11.19, 11.7, 12.21, 12.73, 13.37, 14.0, 14.39, 14.72],
    [5.24, 5.55, 6.06, 6.83, 7.08, 7.47, 7.98, 8.62, 9.39, 9.9, 10.67, 11.44, 11.83, 12.34, 12.98, 13.5, 14.13, 14.52, 14.72],
    [5.29, 5.55, 6.06, 6.83, 7.08, 7.47, 7.98, 8.62, 9.39, 9.9, 10.67, 11.44, 11.83, 12.34, 12.98, 13.5, 14.13, 14.52, 14.72]]
D8_11_Y = [
    [4.89, 3.76, 2.64, 2.26, 2.2, 2.26, 1.76, 1.14, 0.51, 0.2, 0.01, 0.08, 0.39, 0.89, 1.26, 1.64, 1.76, 1.7, 1.7, 2.26, 3.51, 5.26],
    [4.8, 3.7, 2.5, 2.2, 2.15, 2.2, 1.75, 1.1, 0.5, 0.2, 0.03, 0.1, 0.4, 0.95, 1.4, 1.9, 2.05, 1.8, 1.75, 2.3, 3.5, 5.0],
    [3.95, 3.76, 3.26, 2.76, 2.14, 1.51, 0.76, 0.26, 0.08, 0.14, 0.51, 0.89, 1.14, 1.01, 0.95, 1.26, 2.14, 3.14, 4.01],
    [4.8, 2.9, 2.14, 1.5, 0.8, 0.3, 0.05, 0.15, 0.6, 1.1, 1.64, 1.6, 1.5, 1.5, 2.2, 3.3, 4.1],
    [3.64, 2.51, 2.01, 1.89, 1.89, 1.39, 0.64, 0.14, 0.01, 0.2, 0.64, 1.01, 1.14, 0.89, 0.7, 0.89, 1.64, 3.1, 4.14],
    [3.39, 2.6, 1.89, 1.64, 1.7, 1.3, 0.6, 0.12, 0.03, 0.25, 0.7, 1.2, 1.39, 1.45, 1.51, 1.6, 2.3, 3.6, 4.1]]

# ---------------- DCOM9-11
D9_11_X = [
    [4.92, 5.19, 5.47, 5.68, 6.03, 6.31, 6.59, 6.87, 7.29, 7.71, 8.12, 8.54, 8.96, 9.38, 9.66, 9.94, 10.22, 10.35],
    [4.92, 5.19, 5.47, 5.68, 6.03, 6.31, 6.59, 6.87, 7.29, 7.71, 8.12, 8.47, 8.6, 8.75, 8.9, 9.1, 9.38, 9.66, 9.94, 10.22, 10.35],
    [4.92, 5.19, 5.47, 5.75, 6.03, 6.31, 6.59, 6.87, 7.15, 7.57, 7.99, 8.26, 8.68, 9.1, 9.52, 9.8, 10.01, 10.22, 10.42],
    [4.92, 5.19, 5.47, 5.75, 6.03, 6.31, 6.59, 6.87, 7.29, 7.71, 7.99, 8.26, 8.54, 8.96, 9.38, 9.66, 9.94, 10.22, 10.42],
    [4.92, 5.19, 5.47, 5.75, 6.03, 6.31, 6.59, 6.87, 7.15, 7.57, 7.99, 8.26, 8.68, 9.1, 9.38, 9.66, 9.94, 10.14, 10.35],
    [4.92, 5.19, 5.47, 5.75, 6.03, 6.31, 6.59, 6.87, 7.29, 7.71, 8.26, 8.68, 9.1, 9.38, 9.66, 9.8, 10.14, 10.35]]
D9_11_Y = [
    [3.95, 2.01, 0.89, 0.39, 0.33, 0.39, 0.14, 0.39, 0.89, 1.39, 1.76, 1.89, 1.89, 1.76, 1.89, 2.51, 3.89, 4.39],
    [3.9, 2.0, 0.9, 0.4, 0.35, 0.45, 0.2, 0.4, 0.95, 1.45, 1.85, 2.3, 2.05, 2.3, 2.0, 2.1, 1.8, 1.9, 2.5, 3.8, 4.3],
    [4.01, 2.26, 1.01, 0.26, 0.08, 0.14, 0.08, 0.39, 0.51, 0.76, 1.01, 1.14, 1.01, 1.01, 1.14, 1.64, 2.51, 4.14, 4.64],
    [3.9, 2.2, 1.0, 0.3, 0.12, 0.2, 0.25, 0.39, 0.8, 1.2, 1.39, 1.64, 1.64, 1.39, 1.64, 2.2, 3.0, 4.0, 4.6],
    [2.51, 1.26, 0.51, 0.14, 0.2, 0.01, 0.01, 0.14, 0.39, 0.76, 1.14, 1.14, 0.89, 0.76, 0.64, 0.89, 1.64, 2.89, 4.51],
    [2.5, 1.3, 0.6, 0.25, 0.35, 0.15, 0.1, 0.3, 0.7, 1.1, 1.39, 1.39, 1.45, 1.51, 1.8, 2.89, 3.89, 4.4]]

PANEL_X = [D1_5_X, D1_8_X, D1_9_X, D1_10_X, D1_11_X, D2_7_X,
           D2_9_X, D2_10_X, D3_5_X, D3_9_X, D4_7_X, D4_8_X,
           D4_9_X, D4_10_X, D4_11_X, D5_7_X, D8_11_X, D9_11_X]
PANEL_Y = [D1_5_Y, D1_8_Y, D1_9_Y, D1_10_Y, D1_11_Y, D2_7_Y,
           D2_9_Y, D2_10_Y, D3_5_Y, D3_9_Y, D4_7_Y, D4_8_Y,
           D4_9_Y, D4_10_Y, D4_11_Y, D5_7_Y, D8_11_Y, D9_11_Y]

# line styles (black/red/green, thick then thin)
colors = ["#000000", "#000000", "#ff0000", "#ff0000", "#00e000", "#00e000"]
widths = [2.1, 0.9, 2.1, 0.9, 2.1, 0.9]
alphas = [1.0, 0.6, 1.0, 0.6, 1.0, 0.65]
draw_order = [1, 3, 5, 0, 2, 4]

# panel edges in pixels (figure is 925 x 602)
col_px = [(48, 172), (179, 322), (332, 474), (487, 629), (643, 786), (792, 935)]
row_px = [(13, 174), (207, 366), (397, 557)]
W, H = 925.0, 602.0

fig = plt.figure(figsize=(9.25, 6.02), dpi=100)

for i in range(18):
    r, c = divmod(i, 6)
    x0, x1 = col_px[c]
    y0, y1 = row_px[r]
    ax = fig.add_axes([x0 / W, (H - y1) / H, (x1 - x0) / W, (y1 - y0) / H])

    for j in draw_order:
        ax.plot(PANEL_X[i][j], PANEL_Y[i][j], color=colors[j], lw=widths[j],
                alpha=alphas[j], solid_joinstyle="round")

    ax.set_xlim(*XLIMS[i])
    ax.set_ylim(-0.02, 6.0)
    ax.set_xticks(XTICKS[i])
    ax.xaxis.set_minor_locator(AutoMinorLocator(2))
    ax.tick_params(axis="x", which="both", direction="in", labelsize=12.5,
                   pad=3, colors="#222222")
    ax.tick_params(axis="x", which="major", length=3)
    ax.tick_params(axis="x", which="minor", length=2.5)

    if c == 0:
        ax.set_yticks([1, 3, 5])
        ax.set_yticks([2, 4], minor=True)
        ax.tick_params(axis="y", which="both", direction="out", labelsize=12.5,
                       pad=1.5, colors="#222222")
        ax.tick_params(axis="y", which="major", length=5)
        ax.tick_params(axis="y", which="minor", length=3)
    else:
        ax.set_yticks([])

    for sp in ax.spines.values():
        sp.set_linewidth(1.4)
        sp.set_color("#333333")

    ax.text(0.58, 0.845, TITLES[i], transform=ax.transAxes, ha="center",
            va="baseline", fontsize=12.5, color="#111111")

fig.text(20 / W, 1 - 288 / H, "ΔA   /   kcal/mol", rotation=90, ha="center",
         va="center", fontsize=14.5, color="#111111")
fig.text(524 / W, 1 - 591 / H, "distance of COMs / Å", ha="center", va="center",
         fontsize=15, color="#111111")

fig.savefig("out.png", dpi=100, facecolor="white")
